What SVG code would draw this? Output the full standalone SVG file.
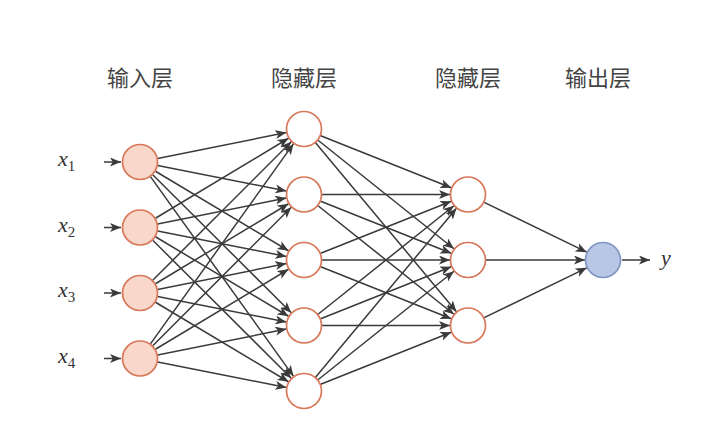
<svg xmlns="http://www.w3.org/2000/svg" width="704" height="424" viewBox="0 0 704 424">
<defs>
<marker id="ah" markerUnits="userSpaceOnUse" markerWidth="13" markerHeight="10" refX="11" refY="4.5" orient="auto">
<path d="M0,0 L11,4.5 L0,9 L2.8,4.5 Z" fill="#3a3a3a"/>
</marker>
<style>
.e{stroke:#3a3a3a;stroke-width:1.5;fill:none;marker-end:url(#ah)}
.in{fill:#f9d8cb;stroke:#d9775a;stroke-width:1.7}
.hd{fill:#ffffff;stroke:#d9775a;stroke-width:1.7}
.out{fill:#b9c7e6;stroke:#8296c2;stroke-width:1.7}
.ttl{font-family:"Noto Sans CJK SC","Noto Sans",sans-serif;font-size:22px;fill:#444;text-anchor:middle}
.var{font-family:"Liberation Serif","DejaVu Serif",serif;font-style:italic;font-size:22px;fill:#333}
.sub{font-family:"Liberation Serif","DejaVu Serif",serif;font-style:normal;font-size:15px}
</style>
</defs>
<rect width="704" height="424" fill="#ffffff"/>
<g id="labels">
<text class="ttl" x="140" y="86">输入层</text>
<text class="ttl" x="304" y="86">隐藏层</text>
<text class="ttl" x="468" y="86">隐藏层</text>
<text class="ttl" x="598" y="86">输出层</text>
</g>
<g id="connectors">
<line class="e" x1="104" y1="162" x2="121" y2="162"/>
<line class="e" x1="104" y1="227.5" x2="121" y2="227.5"/>
<line class="e" x1="104" y1="293" x2="121" y2="293"/>
<line class="e" x1="104" y1="358.5" x2="121" y2="358.5"/>
<line class="e" x1="157.65" y1="158.48" x2="286.35" y2="132.52"/>
<line class="e" x1="157.65" y1="165.52" x2="286.35" y2="190.98"/>
<line class="e" x1="155.44" y1="171.25" x2="288.56" y2="250.75"/>
<line class="e" x1="152.74" y1="174.72" x2="291.26" y2="312.78"/>
<line class="e" x1="150.47" y1="176.64" x2="293.53" y2="376.36"/>
<line class="e" x1="155.44" y1="218.25" x2="288.56" y2="138.25"/>
<line class="e" x1="157.65" y1="223.98" x2="286.35" y2="198.02"/>
<line class="e" x1="157.65" y1="231.02" x2="286.35" y2="256.48"/>
<line class="e" x1="155.44" y1="236.75" x2="288.56" y2="316.25"/>
<line class="e" x1="152.74" y1="240.22" x2="291.26" y2="378.28"/>
<line class="e" x1="152.74" y1="280.28" x2="291.26" y2="141.72"/>
<line class="e" x1="155.44" y1="283.75" x2="288.56" y2="203.75"/>
<line class="e" x1="157.65" y1="289.48" x2="286.35" y2="263.52"/>
<line class="e" x1="157.65" y1="296.52" x2="286.35" y2="321.98"/>
<line class="e" x1="155.44" y1="302.25" x2="288.56" y2="381.75"/>
<line class="e" x1="150.47" y1="343.86" x2="293.53" y2="143.64"/>
<line class="e" x1="152.74" y1="345.78" x2="291.26" y2="207.22"/>
<line class="e" x1="155.44" y1="349.25" x2="288.56" y2="269.25"/>
<line class="e" x1="157.65" y1="354.98" x2="286.35" y2="329.02"/>
<line class="e" x1="157.65" y1="362.02" x2="286.35" y2="387.48"/>
<line class="e" x1="320.72" y1="135.68" x2="451.28" y2="187.82"/>
<line class="e" x1="318.06" y1="140.23" x2="453.94" y2="248.77"/>
<line class="e" x1="315.53" y1="142.82" x2="456.47" y2="311.68"/>
<line class="e" x1="322" y1="194.5" x2="450" y2="194.5"/>
<line class="e" x1="320.72" y1="201.18" x2="451.28" y2="253.32"/>
<line class="e" x1="318.06" y1="205.73" x2="453.94" y2="314.27"/>
<line class="e" x1="320.72" y1="253.32" x2="451.28" y2="201.18"/>
<line class="e" x1="322" y1="260" x2="450" y2="260"/>
<line class="e" x1="320.72" y1="266.68" x2="451.28" y2="318.82"/>
<line class="e" x1="318.06" y1="314.27" x2="453.94" y2="205.73"/>
<line class="e" x1="320.72" y1="318.82" x2="451.28" y2="266.68"/>
<line class="e" x1="322" y1="325.5" x2="450" y2="325.5"/>
<line class="e" x1="315.53" y1="377.18" x2="456.47" y2="208.32"/>
<line class="e" x1="318.06" y1="379.77" x2="453.94" y2="271.23"/>
<line class="e" x1="320.72" y1="384.32" x2="451.28" y2="332.18"/>
<line class="e" x1="484.19" y1="202.36" x2="586.81" y2="252.14"/>
<line class="e" x1="486" y1="260" x2="585" y2="260"/>
<line class="e" x1="484.19" y1="317.64" x2="586.81" y2="267.86"/>
<line class="e" x1="622" y1="260" x2="650" y2="260"/>
</g>
<g id="input-labels">
<text class="var" x="58" y="166">x<tspan class="sub" dy="5">1</tspan></text>
<text class="var" x="58" y="231.5">x<tspan class="sub" dy="5">2</tspan></text>
<text class="var" x="58" y="297">x<tspan class="sub" dy="5">3</tspan></text>
<text class="var" x="58" y="362.5">x<tspan class="sub" dy="5">4</tspan></text>
<text class="var" x="661" y="265">y</text>
</g>
<g id="in1"><circle class="in" cx="140" cy="162" r="17.5"/></g>
<g id="in2"><circle class="in" cx="140" cy="227.5" r="17.5"/></g>
<g id="in3"><circle class="in" cx="140" cy="293" r="17.5"/></g>
<g id="in4"><circle class="in" cx="140" cy="358.5" r="17.5"/></g>
<g id="h1_1"><circle class="hd" cx="304" cy="129" r="17.5"/></g>
<g id="h1_2"><circle class="hd" cx="304" cy="194.5" r="17.5"/></g>
<g id="h1_3"><circle class="hd" cx="304" cy="260" r="17.5"/></g>
<g id="h1_4"><circle class="hd" cx="304" cy="325.5" r="17.5"/></g>
<g id="h1_5"><circle class="hd" cx="304" cy="391" r="17.5"/></g>
<g id="h2_1"><circle class="hd" cx="468" cy="194.5" r="17.5"/></g>
<g id="h2_2"><circle class="hd" cx="468" cy="260" r="17.5"/></g>
<g id="h2_3"><circle class="hd" cx="468" cy="325.5" r="17.5"/></g>
<g id="out"><circle class="out" cx="603" cy="260" r="17.5"/></g>
</svg>
